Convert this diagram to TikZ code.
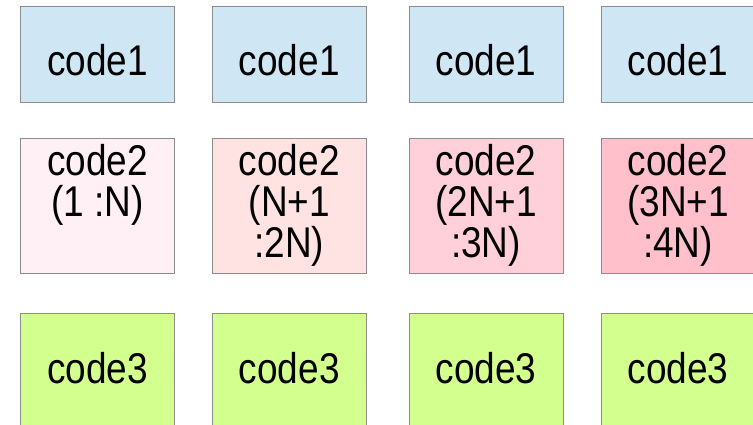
\documentclass[tikz,border=0pt]{standalone}
\usepackage{fontspec}
\setmainfont[FakeStretch=0.86]{Liberation Sans}
\definecolor{cellline}{HTML}{8C8C8C}
\definecolor{codeone}{HTML}{CFE7F5}
\definecolor{codetwoa}{HTML}{FFF0F5}
\definecolor{codetwob}{HTML}{FFE3E3}
\definecolor{codetwoc}{HTML}{FFD0D9}
\definecolor{codetwod}{HTML}{FFC0CB}
\definecolor{codethree}{HTML}{D3FF8F}
\begin{document}
\begin{tikzpicture}[x=1pt,y=-1pt,
    cell/.style={draw=cellline, line width=0.9pt, minimum width=154pt, inner sep=0pt},
    txt/.style={font=\fontsize{43}{41}\selectfont, align=center, anchor=base, inner sep=0pt}]
    \useasboundingbox (0,0) rectangle (753,425);
    \clip (0,0) rectangle (753,425);
    % code1 row
    \node[cell, fill=codeone, minimum height=95.7pt] (a1) at (97.4,54.2) {};
    \node[cell, fill=codeone, minimum height=95.7pt] (a2) at (289.3,54.2) {};
    \node[cell, fill=codeone, minimum height=95.7pt] (a3) at (486,54.2) {};
    \node[cell, fill=codeone, minimum height=95.7pt] (a4) at (678,54.2) {};
    \draw ([yshift=-70pt]a1.north) node[txt] (la1) {code1};
    \draw ([yshift=-70pt]a2.north) node[txt] (la2) {code1};
    \draw ([yshift=-70pt]a3.north) node[txt] (la3) {code1};
    \draw ([yshift=-70pt]a4.north) node[txt] (la4) {code1};
    % code2 row
    \node[cell, fill=codetwoa, minimum height=135pt] (b1) at (97.4,205.8) {};
    \node[cell, fill=codetwob, minimum height=135pt] (b2) at (289.3,205.8) {};
    \node[cell, fill=codetwoc, minimum height=135pt] (b3) at (486,205.8) {};
    \node[cell, fill=codetwod, minimum height=135pt] (b4) at (678,205.8) {};
    \draw ([yshift=-78.6pt]b1.north) node[txt] (lb1) {code2\\(1 :N)};
    \draw ([yshift=-119.6pt]b2.north) node[txt] (lb2) {code2\\(N+1\\:2N)};
    \draw ([yshift=-119.6pt]b3.north) node[txt] (lb3) {code2\\(2N+1\\:3N)};
    \draw ([yshift=-119.6pt]b4.north) node[txt] (lb4) {code2\\(3N+1\\:4N)};
    % code3 row
    \node[cell, fill=codethree, minimum height=150pt] (c1) at (97.4,388.3) {};
    \node[cell, fill=codethree, minimum height=150pt] (c2) at (289.3,388.3) {};
    \node[cell, fill=codethree, minimum height=150pt] (c3) at (486,388.3) {};
    \node[cell, fill=codethree, minimum height=150pt] (c4) at (678,388.3) {};
    \draw ([yshift=-70.7pt]c1.north) node[txt] (lc1) {code3};
    \draw ([yshift=-70.7pt]c2.north) node[txt] (lc2) {code3};
    \draw ([yshift=-70.7pt]c3.north) node[txt] (lc3) {code3};
    \draw ([yshift=-70.7pt]c4.north) node[txt] (lc4) {code3};
\end{tikzpicture}
\end{document}
